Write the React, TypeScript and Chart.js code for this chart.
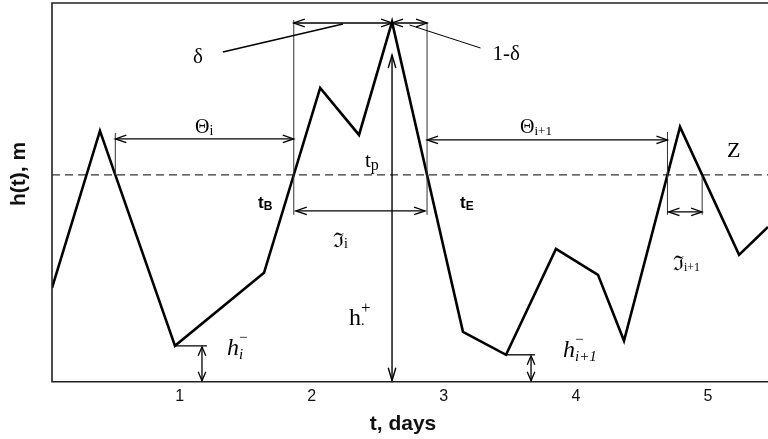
import { useEffect, useRef } from "react";
import { Chart, registerables } from "chart.js";

Chart.register(...registerables);

// Water level record: time in days, level h(t) in metres
const DAYS = [0.034, 0.397, 0.965, 1.639, 2.064, 2.358, 2.608, 3.145, 3.471, 3.849, 4.167, 4.364, 4.788, 5.235, 5.454];
const LEVEL = [0.94, 2.51, 0.36, 1.09, 2.94, 2.47, 3.6, 0.5, 0.27, 1.33, 1.07, 0.41, 2.55, 1.27, 1.55];
const Z_LEVEL = 2.07;
const TICK_DAYS = [1, 2, 3, 4, 5];
const X_RANGE = [0.034, 5.454];
const Y_RANGE = [0, 3.79];

// Levels used by the dimension arrows
const THETA_LEVEL = 2.43;
const SPAN_LEVEL = 3.59;
const INNER_LEVEL = 1.71;
const GUIDE_FOOT = 1.67;
const HPLUS_TOP = 3.27;

const SERIF = "'Liberation Serif','DejaVu Serif',serif";
const SANS = "'Liberation Sans',Arial,sans-serif";

type Run = { t: string; font: string; dy?: number; stack?: boolean };

function rich(ctx: CanvasRenderingContext2D, x: number, y: number, runs: Run[]) {
  let cx = x;
  let prevX = x;
  for (const r of runs) {
    ctx.font = r.font;
    const w = ctx.measureText(r.t).width;
    if (r.stack) {
      ctx.fillText(r.t, prevX, y + (r.dy || 0));
      cx = Math.max(cx, prevX + w);
    } else {
      ctx.fillText(r.t, cx, y + (r.dy || 0));
      prevX = cx;
      cx += w;
    }
  }
}

function head(ctx: CanvasRenderingContext2D, x: number, y: number, dx: number, dy: number, len = 11, half = 3.8) {
  const px = -dy, py = dx;
  ctx.beginPath();
  ctx.moveTo(x - dx * len + px * half, y - dy * len + py * half);
  ctx.lineTo(x, y);
  ctx.lineTo(x - dx * len - px * half, y - dy * len - py * half);
  ctx.stroke();
}

function line(ctx: CanvasRenderingContext2D, x1: number, y1: number, x2: number, y2: number) {
  ctx.beginPath();
  ctx.moveTo(x1, y1);
  ctx.lineTo(x2, y2);
  ctx.stroke();
}

function hArrow(ctx: CanvasRenderingContext2D, x1: number, x2: number, y: number) {
  line(ctx, x1, y, x2, y);
  head(ctx, x1, y, -1, 0);
  head(ctx, x2, y, 1, 0);
}

function vArrow(ctx: CanvasRenderingContext2D, x: number, y1: number, y2: number, len = 11) {
  line(ctx, x, y1, x, y2);
  head(ctx, x, y1, 0, -1, len);
  head(ctx, x, y2, 0, 1, len);
}

// Day at which segment i -> i+1 crosses the threshold Z
function crossing(i: number) {
  return DAYS[i] + ((DAYS[i + 1] - DAYS[i]) * (Z_LEVEL - LEVEL[i])) / (LEVEL[i + 1] - LEVEL[i]);
}

const frame = {
  id: "frame",
  afterDraw(chart: any) {
    const { ctx, chartArea: a } = chart;
    ctx.save();
    ctx.strokeStyle = "#222";
    ctx.lineWidth = 1.6;
    ctx.beginPath();
    ctx.moveTo(a.right + 2, a.top);
    ctx.lineTo(a.left, a.top);
    ctx.lineTo(a.left, a.bottom);
    ctx.lineTo(a.right + 2, a.bottom);
    ctx.stroke();

    ctx.fillStyle = "#111";
    ctx.textAlign = "center";
    ctx.textBaseline = "middle";
    ctx.font = `bold 21px ${SANS}`;
    ctx.fillText("t, days", 403, 424);
    ctx.translate(19, 174);
    ctx.rotate(-Math.PI / 2);
    ctx.fillText("h(t), m", 0, 0);
    ctx.restore();
  },
};

const annotate = {
  id: "annotate",
  afterDatasetsDraw(chart: any) {
    const { ctx, chartArea: a, scales } = chart;
    const X = (v: number) => scales.x.getPixelForValue(v);
    const Y = (v: number) => scales.y.getPixelForValue(v);

    const c0 = X(crossing(1));
    const cB = X(crossing(3));
    const cE = X(crossing(6));
    const c3 = X(crossing(11));
    const c4 = X(crossing(12));
    const peakX = X(DAYS[6]);
    const zY = Y(Z_LEVEL);
    const thetaY = Y(THETA_LEVEL);
    const spanY = Y(SPAN_LEVEL);
    const innerY = Y(INNER_LEVEL);
    const footY = Y(GUIDE_FOOT);

    ctx.save();
    ctx.lineCap = "butt";

    // thin guide lines at the crossings
    ctx.strokeStyle = "#333";
    ctx.lineWidth = 1;
    line(ctx, c0, thetaY - 6, c0, zY);
    line(ctx, cB, spanY - 3, cB, footY);
    line(ctx, cE, spanY - 1, cE, footY);
    line(ctx, c3, thetaY - 7, c3, footY);
    line(ctx, c4, zY, c4, footY);

    // dimension arrows
    ctx.strokeStyle = "#000";
    ctx.lineWidth = 1.3;
    hArrow(ctx, c0, cB, thetaY);
    hArrow(ctx, cE, c3, thetaY + 1);
    hArrow(ctx, cB, peakX, spanY);
    hArrow(ctx, peakX, cE, spanY);
    hArrow(ctx, cB + 2, cE - 2, innerY);
    ctx.lineWidth = 1.2;
    hArrow(ctx, c3 + 1, c4, innerY + 1);
    ctx.lineWidth = 1.4;
    vArrow(ctx, peakX, Y(HPLUS_TOP), a.bottom - 1, 13);

    // minimum depth markers
    ctx.lineWidth = 1.3;
    const m1x = X(DAYS[2]), m1y = Y(LEVEL[2]);
    line(ctx, m1x, m1y, m1x + 32, m1y);
    vArrow(ctx, m1x + 27, m1y + 1, a.bottom - 1, 9);
    const m2x = X(DAYS[8]), m2y = Y(LEVEL[8]);
    line(ctx, m2x, m2y, m2x + 29, m2y);
    vArrow(ctx, m2x + 25, m2y + 1, a.bottom - 1, 9);

    // leaders for delta and 1-delta
    ctx.lineWidth = 1.5;
    const dX = cB + 0.5 * (peakX - cB);
    line(ctx, dX, spanY + 1, dX - 120, spanY + 29);
    ctx.lineWidth = 1;
    const eX = peakX + 0.5 * (cE - peakX);
    line(ctx, eX, spanY + 2, eX + 71, spanY + 25);

    // labels
    ctx.fillStyle = "#000";
    ctx.textAlign = "left";
    ctx.textBaseline = "alphabetic";
    rich(ctx, dX - 150, spanY + 40, [{ t: "δ", font: `21px ${SERIF}` }]);
    rich(ctx, eX + 83, spanY + 37, [{ t: "1-δ", font: `21px ${SERIF}` }]);
    rich(ctx, 195, thetaY - 6, [
      { t: "Θ", font: `20px ${SERIF}` },
      { t: "i", font: `14px ${SERIF}`, dy: 2 },
    ]);
    rich(ctx, 520, thetaY - 6, [
      { t: "Θ", font: `20px ${SERIF}` },
      { t: "i+1", font: `13px ${SERIF}`, dy: 2 },
    ]);
    rich(ctx, 365, 167, [
      { t: "t", font: `21px ${SERIF}` },
      { t: "p", font: `16px ${SERIF}`, dy: 3 },
    ]);
    rich(ctx, 333, 247, [
      { t: "ℑ", font: `20px ${SERIF}` },
      { t: "i", font: `14px ${SERIF}`, dy: 1 },
    ]);
    rich(ctx, 349, 325, [
      { t: "h", font: `24px ${SERIF}` },
      { t: ".", font: `14px ${SERIF}`, dy: 0 },
      { t: "+", font: `17px ${SERIF}`, dy: -12, stack: true },
    ]);
    rich(ctx, 258, 208, [
      { t: "t", font: `bold 17px ${SANS}` },
      { t: "B", font: `bold 12px ${SANS}`, dy: 2 },
    ]);
    rich(ctx, 460, 208, [
      { t: "t", font: `bold 17px ${SANS}` },
      { t: "E", font: `bold 12px ${SANS}`, dy: 2 },
    ]);
    rich(ctx, 727, 157, [{ t: "Z", font: `22px ${SERIF}` }]);
    rich(ctx, 673, 270, [
      { t: "ℑ", font: `20px ${SERIF}` },
      { t: "i+1", font: `12px ${SERIF}`, dy: 1 },
    ]);
    rich(ctx, 227, 355, [
      { t: "h", font: `italic 24px ${SERIF}` },
      { t: "i", font: `italic 15px ${SERIF}`, dy: 4 },
      { t: "−", font: `15px ${SERIF}`, dy: -13, stack: true },
    ]);
    rich(ctx, 563, 357, [
      { t: "h", font: `italic 24px ${SERIF}` },
      { t: "i+1", font: `italic 15px ${SERIF}`, dy: 4 },
      { t: "−", font: `15px ${SERIF}`, dy: -13, stack: true },
    ]);
    ctx.restore();
  },
};

export default function App() {
  const ref = useRef<HTMLCanvasElement>(null);

  useEffect(() => {
    document.body.style.margin = "0";
    const canvas = ref.current;
    if (!canvas) return;
    const chart = new Chart(canvas, {
      type: "line",
      data: {
        datasets: [
          {
            label: "h(t)",
            data: DAYS.map((d, i) => ({ x: d, y: LEVEL[i] })),
            borderColor: "#000",
            borderWidth: 2.6,
            pointRadius: 0,
            tension: 0,
            borderJoinStyle: "miter",
          },
          {
            label: "Z",
            data: [
              { x: X_RANGE[0], y: Z_LEVEL },
              { x: X_RANGE[1], y: Z_LEVEL },
            ],
            borderColor: "#333",
            borderWidth: 1.1,
            borderDash: [8, 5],
            pointRadius: 0,
          },
        ],
      },
      options: {
        responsive: false,
        animation: false,
        layout: { padding: { left: 52, top: 3, right: 0, bottom: 28 } },
        plugins: { legend: { display: false }, tooltip: { enabled: false }, title: { display: false } },
        scales: {
          x: {
            type: "linear",
            min: X_RANGE[0],
            max: X_RANGE[1],
            afterBuildTicks: (scale: any) => {
              scale.ticks = TICK_DAYS.map((v) => ({ value: v }));
            },
            grid: { display: false, drawTicks: false },
            border: { display: false },
            ticks: {
              padding: 5,
              color: "#111",
              font: { family: SANS, size: 16 },
              maxRotation: 0,
              autoSkip: false,
            },
          },
          y: {
            type: "linear",
            display: false,
            min: Y_RANGE[0],
            max: Y_RANGE[1],
          },
        },
      },
      plugins: [frame, annotate],
    });
    return () => chart.destroy();
  }, []);

  return <canvas ref={ref} width={768} height={439} style={{ display: "block" }} />;
}
